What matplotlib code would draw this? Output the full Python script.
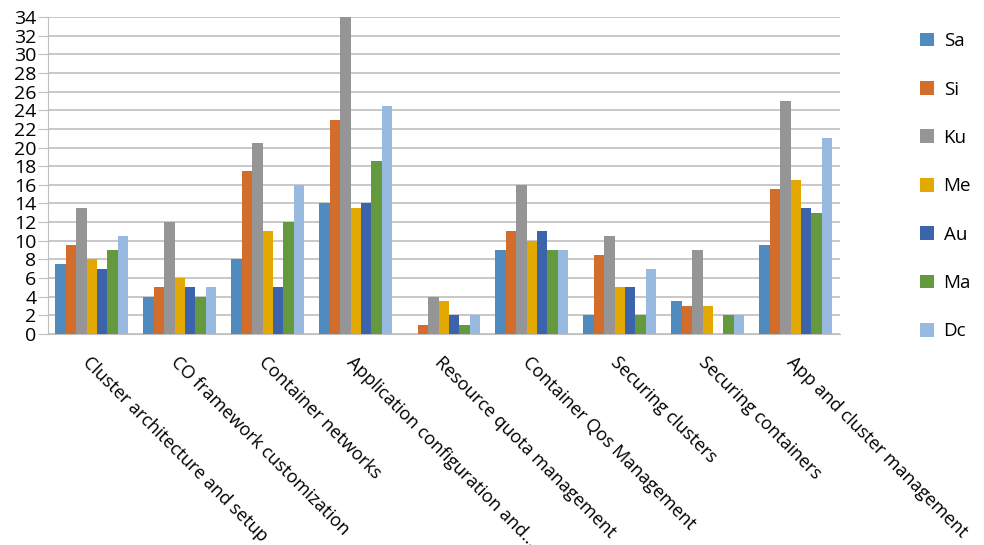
import matplotlib
matplotlib.use('Agg')
import matplotlib.pyplot as plt
import numpy as np

plt.rcParams['font.family'] = ['Open Sans', 'DejaVu Sans']

topics = ["Cluster architecture and setup", "CO framework customization",
          "Container networks", "Application configuration and\u2026",
          "Resource quota management", "Container Qos Management",
          "Securing clusters", "Securing containers", "App and cluster management"]
series = ["Sa", "Si", "Ku", "Me", "Au", "Ma", "Dc"]
Sa = [7.5, 4, 8, 14, 0, 9, 2, 3.5, 9.5]
Si = [9.5, 5, 17.5, 23, 1, 11, 8.5, 3, 15.5]
Ku = [13.5, 12, 20.5, 34, 4, 16, 10.5, 9, 25]
Me = [8, 6, 11, 13.5, 3.5, 10, 5, 3, 16.5]
Au = [7, 5, 5, 14, 2, 11, 5, 0, 13.5]
Ma = [9, 4, 12, 18.5, 1, 9, 2, 2, 13]
Dc = [10.5, 5, 16, 24.5, 2, 9, 7, 2, 21]
colors = ["#508BC0", "#D36D2C", "#959595", "#E3A900", "#3C64AD", "#649A3D", "#98B9E0"]

fig = plt.figure(figsize=(9.84, 5.45), dpi=100)
ax = fig.add_axes([0.0485, 0.387, 0.805, 0.582])

x = np.arange(len(topics))
w = 0.1186
for i, (name, vals) in enumerate(zip(series, [Sa, Si, Ku, Me, Au, Ma, Dc])):
    ax.bar(x + (i - 3) * w, vals, w, color=colors[i], label=name, zorder=3)

ax.set_xlim(-0.5, len(topics) - 0.5)
ax.set_ylim(0, 34)
ax.set_yticks(range(0, 35, 2))
ax.tick_params(axis='y', labelsize=14, length=7, color='#BFBFBF', pad=1)
ax.yaxis.grid(True, color='#BFBFBF', linewidth=1.2, zorder=0)
ax.set_xticks(x)
ax.set_xticklabels(topics, rotation=-45, ha='left', va='top',
                   rotation_mode='anchor', fontsize=13)
ax.tick_params(axis='x', length=0, pad=14)
for s in ['top', 'right']:
    ax.spines[s].set_visible(False)
ax.spines['left'].set_color('#BFBFBF')
ax.spines['bottom'].set_color('#BFBFBF')

fig.legend(loc='upper left', bbox_to_anchor=(0.918, 0.972), frameon=False,
           fontsize=13.5, labelspacing=1.62, handlelength=0.75, handleheight=0.75,
           handletextpad=0.5)

fig.savefig('out.png')
